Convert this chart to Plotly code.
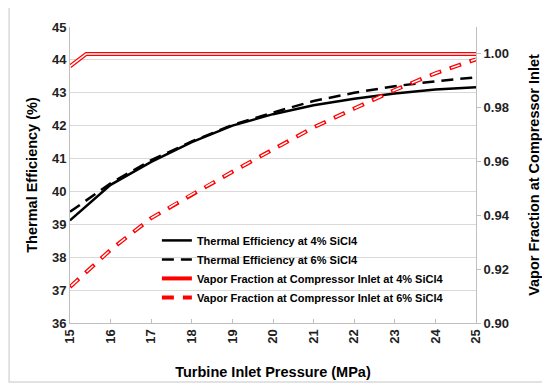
import plotly.graph_objects as go

pressure = [15, 16, 17, 18, 19, 20, 21, 22, 23, 24, 25]
eff_4 = [39.12, 40.20, 40.90, 41.50, 42.00, 42.35, 42.62, 42.82, 42.98, 43.10, 43.17]
eff_6 = [39.38, 40.25, 40.95, 41.52, 42.02, 42.40, 42.75, 43.00, 43.20, 43.35, 43.47]

pressure_vf4 = [15, 15.4, 16, 17, 18, 19, 20, 21, 22, 23, 24, 25]
vf_4 = [0.9954, 1.0, 1.0, 1.0, 1.0, 1.0, 1.0, 1.0, 1.0, 1.0, 1.0, 1.0]
vf_6 = [0.9134, 0.9272, 0.9390, 0.9478, 0.9562, 0.9645, 0.9727, 0.9797, 0.9866, 0.9928, 0.9980]

names = [
    "Thermal Efficiency at 4% SiCl4",
    "Thermal Efficiency at 6% SiCl4",
    "Vapor Fraction at Compressor Inlet at 4% SiCl4",
    "Vapor Fraction at Compressor Inlet at 6% SiCl4",
]

FONT = "Liberation Sans"
fig = go.Figure()

fig.add_trace(go.Scatter(x=pressure, y=eff_4, mode="lines", name=names[0],
                         line=dict(color="black", width=2.5), yaxis="y"))
fig.add_trace(go.Scatter(x=pressure, y=eff_6, mode="lines", name=names[1],
                         line=dict(color="black", width=2.5, dash="12px,7px"), yaxis="y"))
# double red lines (red outline + white core)
fig.add_trace(go.Scatter(x=pressure_vf4, y=vf_4, mode="lines", name=names[2],
                         legendgroup="vf4",
                         line=dict(color="#ff0000", width=4), yaxis="y2"))
fig.add_trace(go.Scatter(x=pressure_vf4, y=vf_4, mode="lines", name=names[2],
                         legendgroup="vf4", showlegend=False, hoverinfo="skip",
                         line=dict(color="white", width=1.5), yaxis="y2"))
fig.add_trace(go.Scatter(x=pressure, y=vf_6, mode="lines", name=names[3],
                         legendgroup="vf6",
                         line=dict(color="#ff0000", width=4, dash="12px,9px"), yaxis="y2"))
fig.add_trace(go.Scatter(x=pressure, y=vf_6, mode="lines", name=names[3],
                         legendgroup="vf6", showlegend=False, hoverinfo="skip",
                         line=dict(color="white", width=1.5, dash="0px,1.5px,9px,10.5px"), yaxis="y2"))

tick_font = dict(family=FONT, size=13, color="#222222", weight="bold")
title_font = dict(family=FONT, size=14.5, color="black", weight="bold")

fig.update_layout(
    width=542, height=383,
    margin=dict(l=62, r=74, t=19, b=68, autoexpand=False),
    paper_bgcolor="white", plot_bgcolor="white",
    showlegend=True,
    legend=dict(x=0.214, y=0.328, xanchor="left", yanchor="top",
                bgcolor="rgba(0,0,0,0)",
                font=dict(family=FONT, size=11, color="black", weight="bold"),
                tracegroupgap=0, itemwidth=30),
    xaxis=dict(range=[15, 25], dtick=1, tickangle=-90, showgrid=False,
               showline=True, linecolor="#bfbfbf", linewidth=1,
               ticks="inside", ticklen=4, tickcolor="#bfbfbf",
               tickfont=tick_font,
               title=dict(text="Turbine Inlet Pressure (MPa)", font=title_font, standoff=24),
               zeroline=False),
    yaxis=dict(range=[36, 45], dtick=1, showgrid=True, gridcolor="#d9d9d9", gridwidth=1,
               showline=True, linecolor="#bfbfbf", linewidth=1, ticks="",
               tickfont=tick_font,
               title=dict(text="Thermal Efficiency (%)", font=title_font, standoff=10),
               zeroline=False),
    yaxis2=dict(range=[0.90, 1.01], overlaying="y", side="right",
                tickvals=[0.90, 0.92, 0.94, 0.96, 0.98, 1.00], tickformat=".2f",
                showgrid=False, showline=True, linecolor="#bfbfbf", linewidth=1,
                ticks="outside", ticklen=4, tickcolor="#bfbfbf",
                tickfont=tick_font,
                title=dict(text="Vapor Fraction at Compressor Inlet", font=title_font, standoff=20),
                zeroline=False),
    shapes=[dict(type="rect", xref="paper", yref="paper",
                 x0=-0.150, x1=1.165, y0=-0.199, y1=1.068,
                 line=dict(color="#d9d9d9", width=1.5), fillcolor="rgba(0,0,0,0)", layer="below")],
)

fig.write_html("out.html")
